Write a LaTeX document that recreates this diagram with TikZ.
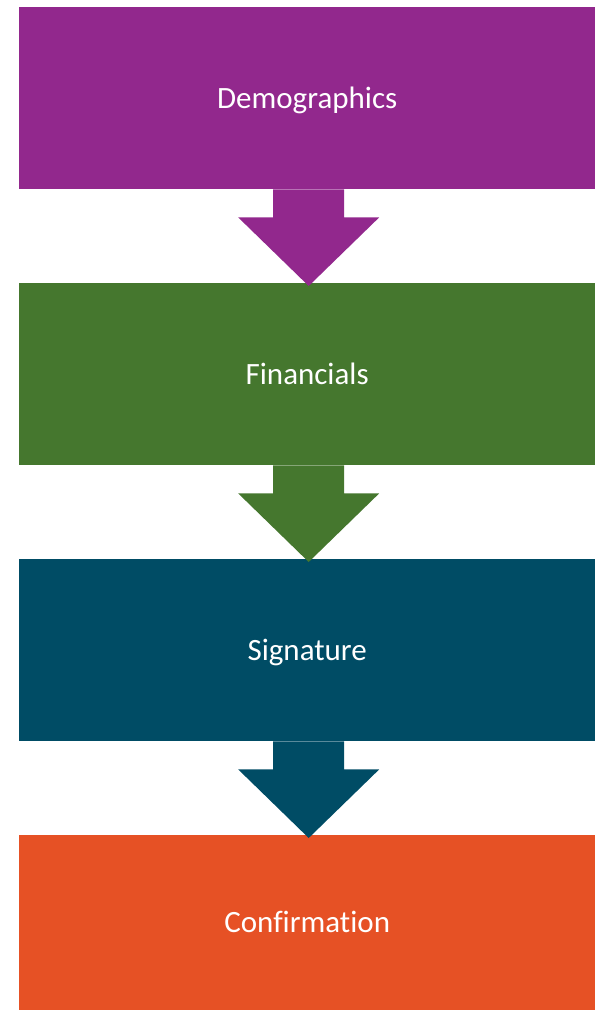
\documentclass[tikz,border=0pt]{standalone}
\usepackage{fontspec}
\setmainfont{Carlito}[Ligatures={NoCommon}]
\usetikzlibrary{calc}
\definecolor{cpurple}{RGB}{146,40,141}
\definecolor{cgreen}{RGB}{69,119,46}
\definecolor{cteal}{RGB}{0,76,101}
\definecolor{corange}{RGB}{230,81,37}
\begin{document}
\begin{tikzpicture}[x=1pt,y=-1pt,
  stagebox/.style={rectangle, inner sep=0pt, minimum width=576pt, minimum height=182pt,
    text=white, font=\fontsize{31}{36}\selectfont, text height=20pt, text depth=0pt,
    anchor=north west}]
\useasboundingbox (0,0) rectangle (598,1010);
\node[stagebox, fill=cpurple] (demo) at (19,7) {Demographics};
\node[stagebox, fill=cgreen] (fin) at (19,283) {Financials};
\node[stagebox, fill=cteal] (sig) at (19,559) {Signature};
\node[stagebox, fill=corange, minimum height=175pt] (conf) at (19,835) {Confirmation};
\foreach \a/\b/\c in {demo/fin/cpurple, fin/sig/cgreen, sig/conf/cteal}{
  \fill[\c] ($(\a.south)+(-34,0)$) -- ++(0,28) -- ++(-35,0)
    -- ($(\b.north)+(1.5,3)$) -- ($(\a.south)+(72,28)$) -- ++(-35,0)
    -- ($(\a.south)+(37,0)$) -- cycle;
}
\end{tikzpicture}
\end{document}
